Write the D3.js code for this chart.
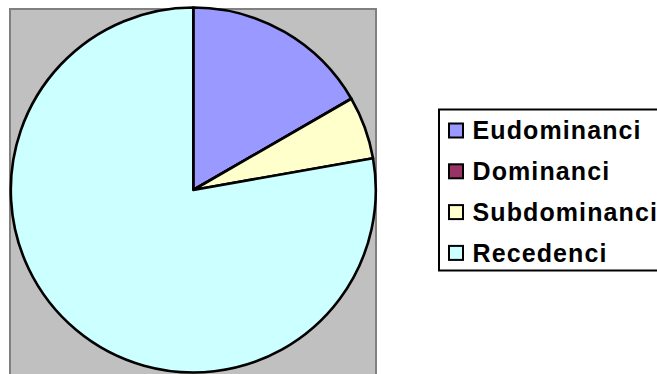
<!DOCTYPE html>
<html>
<head>
<meta charset="utf-8">
<script src="https://cdn.jsdelivr.net/npm/d3@7/dist/d3.min.js"></script>
<style>
  html, body { margin: 0; padding: 0; background: #ffffff; }
  svg { display: block; }
</style>
</head>
<body>
<script>
// Dominance classes and their counts
const categories = ["Eudominanci", "Dominanci", "Subdominanci", "Recedenci"];
const values = [3, 0, 1, 14];
const colors = ["#9999ff", "#993366", "#ffffcc", "#ccffff"];

const W = 657, H = 374;
const svg = d3.select("body").append("svg")
  .attr("width", W).attr("height", H);

// Plot area
svg.append("rect")
  .attr("x", 10).attr("y", 9)
  .attr("width", 366).attr("height", 370)
  .attr("fill", "#c0c0c0")
  .attr("stroke", "#808080")
  .attr("stroke-width", 2);

// Pie
const cx = 193.3, cy = 190, r = 182.5;
const pie = d3.pie().sort(null).value(d => d.v);
const arc = d3.arc().innerRadius(0).outerRadius(r);
const data = categories.map((c, i) => ({ c, v: values[i], col: colors[i] }));

svg.append("g")
  .attr("transform", `translate(${cx},${cy})`)
  .selectAll("path")
  .data(pie(data))
  .join("path")
  .attr("d", arc)
  .attr("fill", d => d.data.col)
  .attr("stroke", "#000")
  .attr("stroke-width", 2.6)
  .attr("stroke-linejoin", "round");

// Legend
const legend = svg.append("g");
legend.append("rect")
  .attr("x", 439).attr("y", 109.5)
  .attr("width", 230).attr("height", 161)
  .attr("fill", "#ffffff")
  .attr("stroke", "#000")
  .attr("stroke-width", 2);

const rowY = d3.scaleLinear().domain([0, 1]).range([130.5, 171.3]);
const item = legend.selectAll("g.item")
  .data(data)
  .join("g")
  .attr("class", "item")
  .attr("transform", (d, i) => `translate(0,${rowY(i)})`);

item.append("rect")
  .attr("x", 449).attr("y", -7)
  .attr("width", 14).attr("height", 14)
  .attr("fill", d => d.col)
  .attr("stroke", "#000")
  .attr("stroke-width", 2);

item.append("text")
  .attr("x", 472.5).attr("y", 8.8)
  .attr("font-family", "Liberation Sans, Arial, sans-serif")
  .attr("font-weight", "bold")
  .attr("font-size", 25)
  .attr("letter-spacing", 1.1)
  .attr("fill", "#000")
  .text(d => d.c);
</script>
</body>
</html>
